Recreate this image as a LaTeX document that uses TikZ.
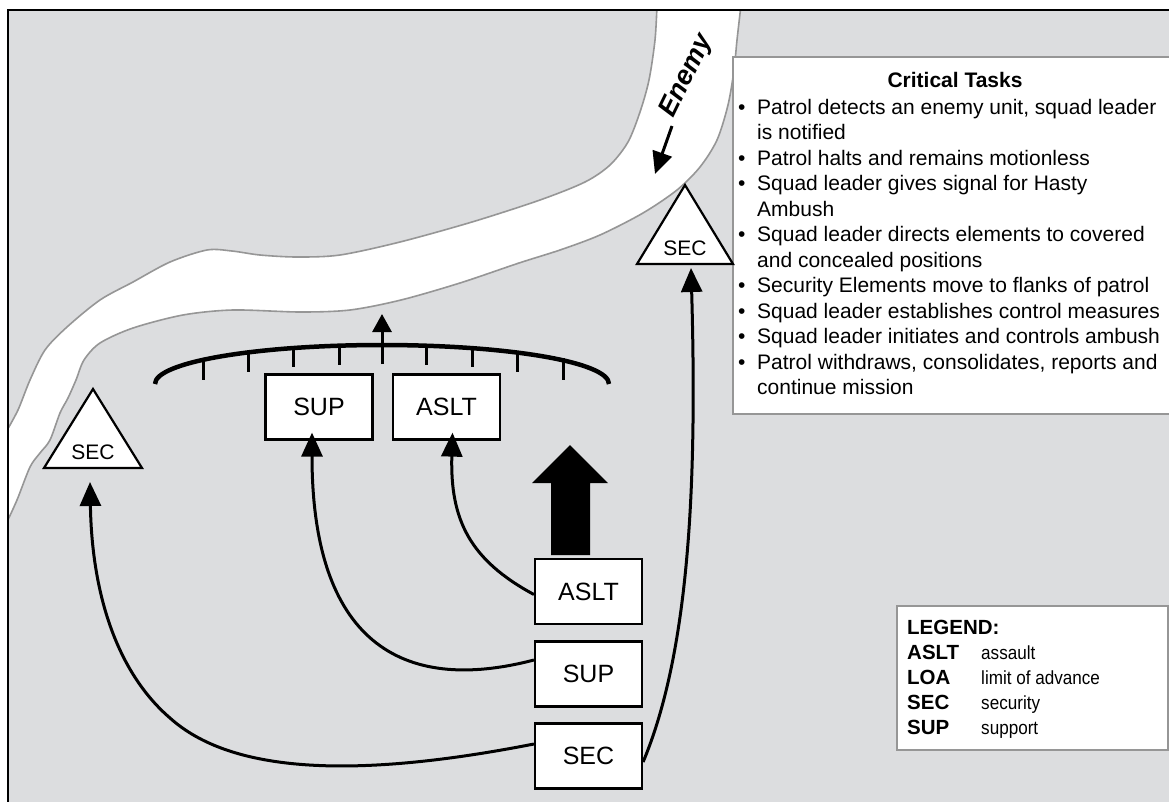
\documentclass[tikz,border=0pt]{standalone}
\usepackage{fontspec}
\setmainfont{Liberation Sans}
\newfontfamily\narrowfont[FakeStretch=0.9]{Liberation Sans}
\usetikzlibrary{arrows.meta}
\definecolor{ground}{RGB}{220,221,223}
\definecolor{bank}{RGB}{150,150,150}
\definecolor{boxgray}{RGB}{150,150,150}
\newcommand{\ctbul}{\makebox[19pt][l]{•}}
\newcommand{\ctind}{\hspace*{19pt}}
\begin{document}
\begin{tikzpicture}[x=1pt,y=-1pt,
  unitbox/.style={draw=black, fill=white, line width=2.2pt, minimum width=107pt, minimum height=65pt, inner sep=0pt, font=\fontsize{25}{30}\selectfont},
  move/.style={line width=3pt, -{Triangle[width=21pt,length=24pt]}},
  tri/.style={draw=black, fill=white, line width=2.2pt, line join=miter},
  trilabel/.style={inner sep=0pt, font=\fontsize{21}{25}\selectfont},
  infobox/.style={draw=boxgray, fill=white, line width=2pt},
  legkey/.style={anchor=base west, inner sep=0pt, font=\fontsize{20.5}{24}\selectfont\bfseries},
  legval/.style={anchor=base west, inner sep=0pt, font=\fontsize{19}{24}\selectfont\narrowfont},
  banks/.style={draw=bank, line width=1.6pt}
]
\useasboundingbox (0,0) rectangle (1169,801);
\fill[white] (0,0) rectangle (1169,801);
\fill[ground] (8,10) rectangle (1175,805);
% river
\begin{scope}
\clip (8,10) rectangle (1175,805);
\fill[white] plot[smooth] coordinates {(657,5) (655,40) (649,80) (640,112) (628,142) (610,165) (585,182) (540,200) (472,222) (400,242) (340,255) (297,257) (260,255) (232,251) (207,250) (170,262) (133,282) (100,300) (67,327) (45,350) (30,380) (18,410) (6,432)}
  -- (6,524) -- plot[smooth] coordinates {(6,524) (17,500) (30,467) (40,453) (50,440) (60,413) (68,398) (76,380) (84,360) (100,343) (133,328) (183,315) (233,310) (300,312) (350,310) (401,300) (460,283) (519,263) (560,250) (600,235) (643,213) (677,190) (700,167) (717,140) (728,105) (734,70) (737,40) (741,5)} -- cycle;
\draw[banks] plot[smooth] coordinates {(657,5) (655,40) (649,80) (640,112) (628,142) (610,165) (585,182) (540,200) (472,222) (400,242) (340,255) (297,257) (260,255) (232,251) (207,250) (170,262) (133,282) (100,300) (67,327) (45,350) (30,380) (18,410) (6,432)};
\draw[banks] plot[smooth] coordinates {(6,524) (17,500) (30,467) (40,453) (50,440) (60,413) (68,398) (76,380) (84,360) (100,343) (133,328) (183,315) (233,310) (300,312) (350,310) (401,300) (460,283) (519,263) (560,250) (600,235) (643,213) (677,190) (700,167) (717,140) (728,105) (734,70) (737,40) (741,5)};
\end{scope}
% frame
\draw[line width=2.5pt] (8,805) -- (8,10) -- (1175,10);
% enemy
\node[rotate=64, inner sep=0pt, font=\fontsize{27}{30}\selectfont\bfseries\itshape] (enemy) at (687,76) {Enemy};
\coordinate (enemytail) at (672,126);
\coordinate (enemytip) at (655,174);
\draw[line width=3pt, -{Triangle[width=20pt,length=22pt]}] (enemytail) -- (enemytip);
% critical tasks
\draw[infobox] (733,57) rectangle (1180,414);
\node[inner sep=0pt, font=\fontsize{21}{25}\selectfont\bfseries, anchor=base] (cttitle) at (955,87) {Critical Tasks};
\node[anchor=north west, align=left, inner sep=0pt, font=\fontsize{21}{25.5}\selectfont] (tasks) at (738,99) {%
\ctbul Patrol detects an enemy unit, squad leader\\
\ctind is notified\\
\ctbul Patrol halts and remains motionless\\
\ctbul Squad leader gives signal for Hasty\\
\ctind Ambush\\
\ctbul Squad leader directs elements to covered\\
\ctind and concealed positions\\
\ctbul Security Elements move to flanks of patrol\\
\ctbul Squad leader establishes control measures\\
\ctbul Squad leader initiates and controls ambush\\
\ctbul Patrol withdraws, consolidates, reports and\\
\ctind continue mission};
% LOA
\draw[line width=4.5pt] (155,384) .. controls (155,362) and (257,345) .. (382,345) .. controls (507,345) and (609,362) .. (609,384);
\foreach \tx/\ty/\tb in {203/358/380, 248/351/372, 293/347/367, 339/344/365, 426/344/365, 472/347/367, 517/351/372, 563/358/380}
  \draw[line width=3pt] (\tx,\ty) -- (\tx,\tb);
\coordinate (loabase) at (382,364);
\coordinate (loatip) at (382,314);
\draw[line width=3pt, -{Triangle[width=19pt,length=18pt]}] (loabase) -- (loatip);
% boxes
\node[unitbox] (supT) at (319,407) {SUP};
\node[unitbox] (asltT) at (446.5,407) {ASLT};
\node[unitbox] (asltB) at (588.5,591.5) {ASLT};
\node[unitbox] (supB) at (588.5,674) {SUP};
\node[unitbox] (secB) at (588.5,756) {SEC};
% big arrow
\fill (551,555) -- (551,483) -- (532,483) -- (570,445) -- (608,483) -- (590,483) -- (590,555) -- cycle;
% triangles
\draw[tri] (44,468) -- (93,389) -- (142,468) -- cycle;
\node[trilabel] (secL) at (93,452) {SEC};
\draw[tri] (637,264) -- (685,185) -- (733,264) -- cycle;
\node[trilabel] (secR) at (685,248) {SEC};
\coordinate (secLtip) at (90,482);
\coordinate (secRtip) at (691,268);
% movement arrows
\draw[move] ([yshift=-3pt]asltB.west) .. controls (470,560) and (450,520) .. ([xshift=6pt,yshift=8pt]asltT.south);
\draw[move] ([yshift=14pt]supB.west) .. controls (400,695) and (312,640) .. ([xshift=-7pt,yshift=8pt]supT.south);
\draw[move] ([yshift=12pt]secB.west) .. controls (350,780) and (230,772) .. (170,718) .. controls (120,675) and (92,600) .. (secLtip);
\draw[move] ([yshift=-6pt]secB.east) .. controls (690,650) and (697,480) .. (secRtip);
% legend
\draw[infobox] (897,606) rectangle (1168,750);
\node[legkey] (leg) at (907,634) {LEGEND:};
\node[legkey] (k1) at (907,659) {ASLT};
\node[legkey] (k2) at (907,684) {LOA};
\node[legkey] (k3) at (907,709) {SEC};
\node[legkey] (k4) at (907,734) {SUP};
\node[legval] (v1) at (981,659) {assault};
\node[legval] (v2) at (981,684) {limit of advance};
\node[legval] (v3) at (981,709) {security};
\node[legval] (v4) at (981,734) {support};
\end{tikzpicture}
\end{document}
